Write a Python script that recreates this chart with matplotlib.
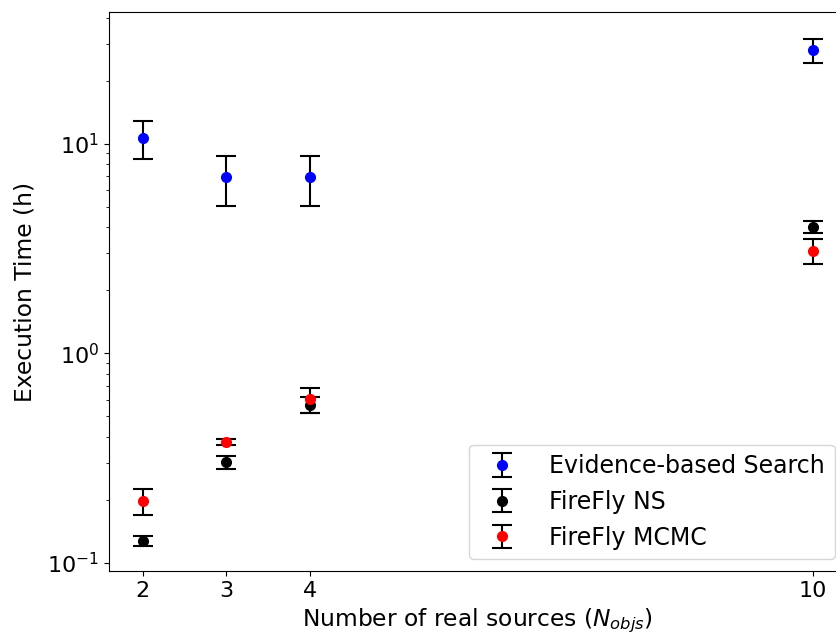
import numpy as np
import matplotlib.pyplot as plt

# execution time (hours) vs. number of real sources
n_objs = [2, 3, 4, 10]

evidence_t = [10.7, 6.9, 6.9, 28.0]
evidence_err = [2.2, 1.85, 1.85, 3.7]

ns_t = [0.128, 0.303, 0.57, 4.02]
ns_err = [0.007, 0.021, 0.05, 0.25]

mcmc_t = [0.197, 0.377, 0.603, 3.09]
mcmc_err = [0.028, 0.012, 0.081, 0.42]

fig = plt.figure(figsize=(8.36, 6.34), dpi=100)
ax = fig.add_axes([0.1304, 0.0994, 0.882, 0.8817])

kw = dict(fmt='o', ms=7, ecolor='k', elinewidth=1.5, capsize=7.5, capthick=1.5)
ax.errorbar(n_objs, evidence_t, yerr=evidence_err, color='b', label='Evidence-based Search', **kw)
ax.errorbar(n_objs, ns_t, yerr=ns_err, color='k', label='FireFly NS', **kw)
ax.errorbar(n_objs, mcmc_t, yerr=mcmc_err, color='r', label='FireFly MCMC', **kw)

ax.set_yscale('log')
ax.set_xlim(1.6, 10.4)
ax.set_ylim(0.0916, 42.5)
ax.set_xticks(n_objs)
ax.tick_params(labelsize=16)
ax.set_xlabel(r'Number of real sources ($N_{objs}$)', fontsize=16.8)
ax.set_ylabel('Execution Time (h)', fontsize=16.8, labelpad=8)
ax.legend(loc='lower right', fontsize=17, handletextpad=1.0)

fig.savefig('out.png', dpi=100)
